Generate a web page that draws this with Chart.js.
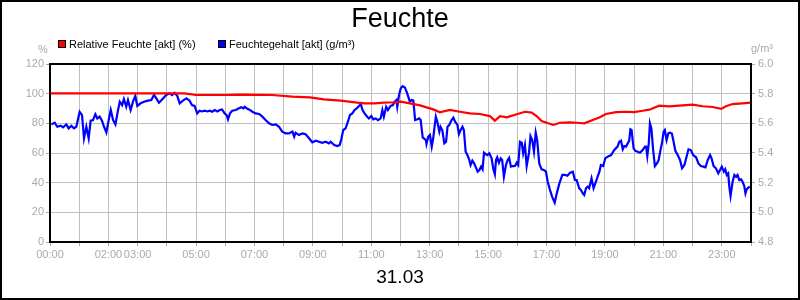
<!DOCTYPE html>
<html>
<head>
<meta charset="utf-8">
<script src="https://cdn.jsdelivr.net/npm/chart.js@4.4.1/dist/chart.umd.min.js"></script>
<style>
  html, body { margin: 0; padding: 0; background: #fff; }
  #wrap { width: 800px; height: 300px; }
</style>
</head>
<body>
<div id="wrap"><canvas id="feuchte-chart" width="800" height="300"></canvas></div>
<script>
const ctx = document.getElementById("feuchte-chart").getContext("2d");

// Chart texts
let chartTitle = "Feuchte";
let dateLabel = "31.03";
let seriesNames = ["Relative Feuchte [akt] (%)", "Feuchtegehalt [akt] (g/m³)"];
let seriesColors = ["#ff0000", "#0000ff"];
let leftUnit = "%";
let rightUnit = "g/m³";
let hourLabels = [0, 2, 3, 5, 7, 9, 11, 13, 15, 17, 19, 21, 23];

// Relative Feuchte (%), time in hours
let rhTimes = [0, 4.6, 5.0, 5.96, 6.5, 7.6, 8.3, 8.9, 9.38, 9.95, 10.52, 10.77, 11.1, 11.43, 11.78,
  12.01, 12.32, 12.67, 13.12, 13.35, 13.69, 14.03, 14.38, 14.72, 15.06, 15.23, 15.41, 15.64, 15.98,
  16.26, 16.49, 16.66, 16.83, 17.06, 17.23, 17.46, 17.8, 18.03, 18.29, 18.58, 18.81, 19.03, 19.38,
  19.72, 20.0, 20.29, 20.52, 20.86, 21.2, 21.66, 22.0, 22.35, 22.69, 22.98, 23.14, 23.37, 23.71, 23.98];
let rhValues = [100.2, 100.2, 99.1, 99.1, 99.4, 99.1, 98.0, 97.5, 96.2, 95.3, 93.9, 93.5, 93.5, 93.9, 94.2,
  94.6, 93.5, 92.1, 89.4, 87.4, 89.0, 87.8, 86.7, 86.3, 84.9, 81.8, 84.9, 84.0, 86.1,
  87.8, 87.2, 84.9, 81.6, 80.0, 78.9, 80.4, 80.7, 80.4, 80.0, 82.2, 84.0, 86.3, 87.6,
  87.8, 87.6, 88.5, 89.2, 91.9, 91.5, 92.1, 92.6, 91.5, 91.0, 89.7, 91.5, 93.0, 93.5, 93.9];

// Feuchtegehalt (g/m³), time in hours
let ahTimes = [0.045, 0.16, 0.25, 0.365, 0.445, 0.56, 0.64, 0.73, 0.82, 0.9, 1.015, 1.096, 1.164, 1.244, 1.324,
  1.392, 1.472, 1.552, 1.62, 1.7, 1.78, 1.85, 1.93, 2.01, 2.08, 2.16, 2.24, 2.33, 2.39, 2.47, 2.53, 2.61, 2.67,
  2.76, 2.84, 2.92, 2.99, 3.1, 3.22, 3.35, 3.47, 3.56, 3.64, 3.73, 3.87, 3.98, 4.1, 4.18, 4.27, 4.36, 4.44,
  4.55, 4.67, 4.78, 4.86, 4.95, 5.04, 5.12, 5.2, 5.29, 5.39, 5.47, 5.55, 5.64, 5.73, 5.81, 5.89, 5.98,
  6.048, 6.094, 6.163, 6.24, 6.36, 6.47, 6.55, 6.62, 6.67, 6.73, 6.81, 6.93, 7.04, 7.16, 7.27, 7.38, 7.5,
  7.61, 7.73, 7.84, 7.95, 8.07, 8.18, 8.3, 8.36, 8.41, 8.52, 8.64, 8.75, 8.87, 8.98, 9.1, 9.21, 9.32, 9.44,
  9.55, 9.61, 9.73, 9.84, 9.92, 9.98, 10.04, 10.12, 10.2, 10.27, 10.35, 10.43, 10.5, 10.58, 10.64, 10.7,
  10.77, 10.86, 10.92, 11.0, 11.07, 11.15, 11.23, 11.32, 11.38, 11.43, 11.51, 11.57, 11.66, 11.74, 11.8,
  11.86, 11.89, 11.95, 12.01, 12.07, 12.15, 12.23, 12.32, 12.38, 12.44, 12.5, 12.58, 12.64, 12.69, 12.76,
  12.8, 12.87, 12.89, 12.95, 13.01, 13.07, 13.12, 13.18, 13.21, 13.26, 13.33, 13.37, 13.43, 13.5, 13.56,
  13.61, 13.67, 13.75, 13.81, 13.87, 13.95, 14.0, 14.06, 14.12, 14.17, 14.23, 14.29, 14.35, 14.4, 14.46,
  14.52, 14.58, 14.64, 14.7, 14.76, 14.81, 14.86, 14.92, 14.97, 15.04, 15.12, 15.18, 15.23, 15.27, 15.31,
  15.37, 15.43, 15.48, 15.54, 15.61, 15.67, 15.72, 15.78, 15.84, 15.89, 15.93, 15.98, 16.03, 16.09, 16.15,
  16.2, 16.26, 16.32, 16.4, 16.45, 16.51, 16.57, 16.63, 16.68, 16.75, 16.83, 16.91, 16.98, 17.04, 17.12,
  17.19, 17.28, 17.35, 17.44, 17.54, 17.63, 17.71, 17.81, 17.9, 17.97, 18.03, 18.12, 18.18, 18.24, 18.29,
  18.35, 18.41, 18.46, 18.54, 18.61, 18.67, 18.75, 18.81, 18.86, 18.94, 19.01, 19.09, 19.21, 19.32, 19.43,
  19.49, 19.55, 19.61, 19.66, 19.72, 19.78, 19.83, 19.87, 19.91, 19.98, 20.04, 20.12, 20.2, 20.29, 20.37,
  20.41, 20.45, 20.5, 20.54, 20.59, 20.65, 20.71, 20.78, 20.84, 20.89, 20.95, 21.01, 21.05, 21.11, 21.17,
  21.23, 21.29, 21.35, 21.41, 21.49, 21.57, 21.64, 21.72, 21.79, 21.86, 21.94, 22.02, 22.12, 22.2, 22.28,
  22.37, 22.44, 22.52, 22.6, 22.65, 22.72, 22.8, 22.88, 22.94, 23.0, 23.07, 23.12, 23.17, 23.22, 23.26,
  23.3, 23.37, 23.43, 23.49, 23.54, 23.6, 23.66, 23.71, 23.77, 23.81, 23.85, 23.92, 23.96];
let ahValues = [5.593, 5.604, 5.577, 5.584, 5.573, 5.593, 5.566, 5.584, 5.566, 5.577, 5.678, 5.656, 5.499, 5.577, 5.499,
  5.618, 5.622, 5.661, 5.633, 5.645, 5.618, 5.577, 5.539, 5.622, 5.690, 5.622, 5.593, 5.690, 5.746, 5.723, 5.764, 5.712, 5.757,
  5.690, 5.746, 5.784, 5.717, 5.735, 5.746, 5.753, 5.757, 5.791, 5.768, 5.739, 5.768, 5.791, 5.802, 5.791, 5.806, 5.784, 5.735,
  5.753, 5.768, 5.753, 5.723, 5.717, 5.667, 5.685, 5.680, 5.685, 5.680, 5.685, 5.678, 5.690, 5.680, 5.690, 5.694, 5.667,
  5.656, 5.627, 5.667, 5.685, 5.690, 5.701, 5.708, 5.701, 5.712, 5.701, 5.694, 5.678, 5.667, 5.663, 5.645, 5.622, 5.600,
  5.589, 5.593, 5.577, 5.544, 5.532, 5.532, 5.544, 5.510, 5.537, 5.521, 5.532, 5.526, 5.499, 5.472, 5.483, 5.476, 5.469, 5.476,
  5.465, 5.476, 5.454, 5.447, 5.454, 5.499, 5.555, 5.566, 5.611, 5.656, 5.667, 5.690, 5.701, 5.717, 5.730, 5.690,
  5.667, 5.645, 5.633, 5.649, 5.627, 5.633, 5.622, 5.633, 5.690, 5.645, 5.712, 5.690, 5.717, 5.723, 5.746,
  5.757, 5.712, 5.791, 5.836, 5.851, 5.842, 5.802, 5.746, 5.757, 5.753, 5.622, 5.627, 5.633, 5.622, 5.505,
  5.499, 5.487, 5.461, 5.510, 5.521, 5.443, 5.499, 5.600, 5.645, 5.611, 5.544, 5.577, 5.555, 5.465, 5.476,
  5.577, 5.589, 5.622, 5.638, 5.611, 5.589, 5.528, 5.555, 5.577, 5.555, 5.409, 5.386, 5.357, 5.319, 5.348,
  5.330, 5.303, 5.274, 5.285, 5.308, 5.290, 5.402, 5.393, 5.386, 5.398, 5.364, 5.290, 5.256, 5.353, 5.371,
  5.334, 5.364, 5.353, 5.240, 5.319, 5.353, 5.368, 5.308, 5.312, 5.312, 5.315, 5.334, 5.319, 5.476, 5.469,
  5.398, 5.454, 5.312, 5.402, 5.514, 5.487, 5.409, 5.537, 5.487, 5.330, 5.290, 5.285, 5.274, 5.206, 5.150,
  5.106, 5.065, 5.128, 5.195, 5.252, 5.252, 5.247, 5.267, 5.274, 5.218, 5.218, 5.162, 5.150, 5.128, 5.117,
  5.162, 5.173, 5.162, 5.229, 5.162, 5.195, 5.240, 5.274, 5.319, 5.312, 5.364, 5.375, 5.386, 5.420, 5.443,
  5.476, 5.483, 5.425, 5.447, 5.443, 5.465, 5.483, 5.560, 5.555, 5.432, 5.415, 5.409, 5.402, 5.420, 5.443,
  5.443, 5.380, 5.465, 5.600, 5.566, 5.420, 5.312, 5.330, 5.353, 5.409, 5.465, 5.544, 5.555, 5.487, 5.532,
  5.537, 5.532, 5.476, 5.415, 5.386, 5.353, 5.297, 5.319, 5.371, 5.425, 5.420, 5.386, 5.371, 5.330, 5.312,
  5.308, 5.303, 5.353, 5.386, 5.364, 5.312, 5.297, 5.263, 5.285, 5.308, 5.274, 5.290, 5.252, 5.263, 5.168,
  5.110, 5.206, 5.252, 5.240, 5.252, 5.218, 5.222, 5.206, 5.177, 5.128, 5.155, 5.168, 5.173];

const fontFamily = "'Liberation Sans', Arial, sans-serif";
const tickGray = "#aaaaaa";
const gridGray = "#c0c0c0";

const pad2 = (n) => (n < 10 ? "0" : "") + n;

const data = {
  datasets: [
    {
      label: seriesNames[0],
      data: rhTimes.map((t, i) => ({ x: t, y: rhValues[i] })),
      borderColor: seriesColors[0],
      backgroundColor: seriesColors[0],
      borderWidth: 2.2,
      pointRadius: 0,
      tension: 0,
      yAxisID: "y",
    },
    {
      label: seriesNames[1],
      data: ahTimes.map((t, i) => ({ x: t, y: ahValues[i] })),
      borderColor: seriesColors[1],
      backgroundColor: seriesColors[1],
      borderWidth: 2.2,
      pointRadius: 0,
      tension: 0,
      yAxisID: "y1",
    },
  ],
};

// draws title, legend, units, date and frames
const decorations = {
  id: "decorations",
  afterDraw(chart) {
    const c = chart.ctx;
    const area = chart.chartArea;
    c.save();
    c.fillStyle = "#000";
    c.textBaseline = "alphabetic";
    c.textAlign = "center";
    c.font = "27px " + fontFamily;
    c.fillText(chartTitle, 400, 27);
    c.font = "19px " + fontFamily;
    c.fillText(dateLabel, 400, 283);

    // legend
    c.textAlign = "left";
    c.font = "11px " + fontFamily;
    const legendX = [58, 218];
    seriesNames.forEach((name, i) => {
      c.fillStyle = seriesColors[i];
      c.fillRect(legendX[i], 40, 8, 8);
      c.strokeStyle = "#000";
      c.lineWidth = 1;
      c.strokeRect(legendX[i] + 0.5, 40.5, 7, 7);
      c.fillStyle = "#000";
      c.fillText(name, legendX[i] + 11, 48);
    });

    // units
    c.fillStyle = tickGray;
    c.textAlign = "center";
    c.fillText(leftUnit, 43, 53);
    c.fillText(rightUnit, 762, 52);

    // plot box
    c.strokeStyle = "#000";
    c.lineWidth = 2;
    c.strokeRect(area.left, area.top, area.right - area.left, area.bottom - area.top);

    // outer frame
    c.strokeRect(1, 1, 798, 298);
    c.restore();
  },
};

const options = {
  responsive: false,
  animation: false,
  layout: { padding: { top: 64, left: 0, right: 0, bottom: 0 } },
  plugins: {
    legend: { display: false },
    title: { display: false },
    tooltip: { enabled: false },
  },
  scales: {
    x: {
      type: "linear",
      min: 0,
      max: 24,
      afterFit: (s) => { s.height = 58; },
      afterBuildTicks: (s) => {
        s.ticks = [];
        for (let h = 0; h <= 24; h++) s.ticks.push({ value: h });
      },
      ticks: {
        autoSkip: false,
        maxRotation: 0,
        padding: 2,
        color: tickGray,
        font: { family: fontFamily, size: 11 },
        callback: (v) => (hourLabels.includes(v) ? pad2(v) + ":00" : ""),
      },
      grid: { color: gridGray, tickColor: tickGray, tickLength: 4, lineWidth: 1 },
      border: { display: false },
    },
    y: {
      position: "left",
      min: 0,
      max: 120,
      afterFit: (s) => { s.width = 50; },
      ticks: {
        stepSize: 20,
        padding: 2,
        color: tickGray,
        font: { family: fontFamily, size: 11 },
      },
      grid: { color: gridGray, tickColor: tickGray, tickLength: 4, lineWidth: 1 },
      border: { display: false },
    },
    y1: {
      position: "right",
      min: 4.8,
      max: 6.0,
      afterFit: (s) => { s.width = 49; },
      ticks: {
        stepSize: 0.2,
        padding: 3,
        color: tickGray,
        font: { family: fontFamily, size: 11 },
        callback: (v) => v.toFixed(1),
      },
      grid: { drawOnChartArea: false, tickColor: tickGray, tickLength: 4 },
      border: { display: false },
    },
  },
};

const config = {
  type: "line",
  data: data,
  options: options,
  plugins: [decorations],
};

new Chart(ctx, config);
</script>
</body>
</html>
